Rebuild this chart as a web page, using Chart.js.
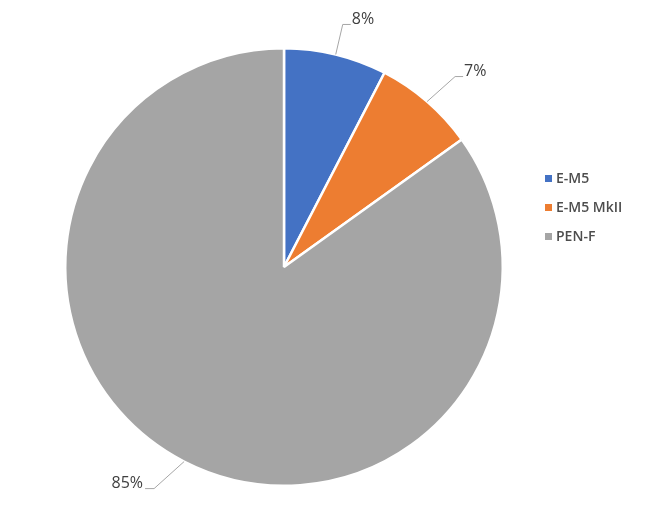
<!DOCTYPE html>
<html lang="en">
<head>
    <meta charset="UTF-8">
    <title>Camera share</title>
    <style>
        body { margin: 0; background: #fff; }
        .wrap { width: 660px; height: 518px; }
    </style>
</head>
<body>
    <div class="wrap">
        <canvas id="myChart" width="660" height="518"></canvas>
    </div>

    <script src="https://cdn.jsdelivr.net/npm/chart.js"></script>
    <script>
        const labels = ['E-M5', 'E-M5 MkII', 'PEN-F'];
        const shares = [7.6, 7.5, 84.9];
        const pctLabels = ['8%', '7%', '85%'];

        const colors = ['#4472C4', '#ED7D31', '#A5A5A5'];
        // where the leader line bends, relative to the slice edge
        const bend = [[7, -30], [28, -25], [-30, 27]];

        const ctx = document.getElementById('myChart');

        const leaderLabels = {
            id: 'leaderLabels',
            afterDatasetsDraw(chart) {
                const c = chart.ctx;
                const meta = chart.getDatasetMeta(0);
                c.save();
                c.font = '16px "Open Sans", "Noto Sans", sans-serif';
                c.textBaseline = 'middle';
                meta.data.forEach((arc, i) => {
                    const p = arc.getProps(['x', 'y', 'startAngle', 'endAngle', 'outerRadius']);
                    const mid = (p.startAngle + p.endAngle) / 2;
                    const ex = p.x + Math.cos(mid) * p.outerRadius;
                    const ey = p.y + Math.sin(mid) * p.outerRadius;
                    const bx = ex + bend[i][0];
                    const by = ey + bend[i][1];
                    const right = bx >= p.x;
                    const hx = bx + (right ? 8 : -9);
                    c.strokeStyle = '#A6A6A6';
                    c.lineWidth = 1;
                    c.beginPath();
                    c.moveTo(ex, ey);
                    c.lineTo(bx, by);
                    c.lineTo(hx, by);
                    c.stroke();
                    c.fillStyle = '#404040';
                    c.textAlign = right ? 'left' : 'right';
                    c.fillText(pctLabels[i], hx + (right ? 1 : -2), by - 5);
                });
                c.restore();
            }
        };

        const sideLegend = {
            id: 'sideLegend',
            afterDraw(chart) {
                const c = chart.ctx;
                c.save();
                c.font = '600 14px "Open Sans", "Noto Sans", sans-serif';
                c.textBaseline = 'middle';
                c.textAlign = 'left';
                labels.forEach((name, i) => {
                    const y = 178 + i * 29;
                    c.fillStyle = colors[i];
                    c.fillRect(545, y - 3, 7, 7);
                    c.fillStyle = '#4d4d4d';
                    c.fillText(name, 556, y + 1);
                });
                c.restore();
            }
        };

        new Chart(ctx, {
            type: 'pie',
            data: {
                labels: labels,
                datasets: [{
                    data: shares,
                    backgroundColor: colors,
                    borderColor: '#FFFFFF',
                    borderWidth: 2.5
                }]
            },
            options: {
                responsive: false,
                animation: false,
                layout: {
                    padding: { left: 64, top: 47, right: 156, bottom: 31 }
                },
                plugins: {
                    legend: { display: false },
                    tooltip: { enabled: false }
                }
            },
            plugins: [leaderLabels, sideLegend]
        });
    </script>
</body>
</html>
